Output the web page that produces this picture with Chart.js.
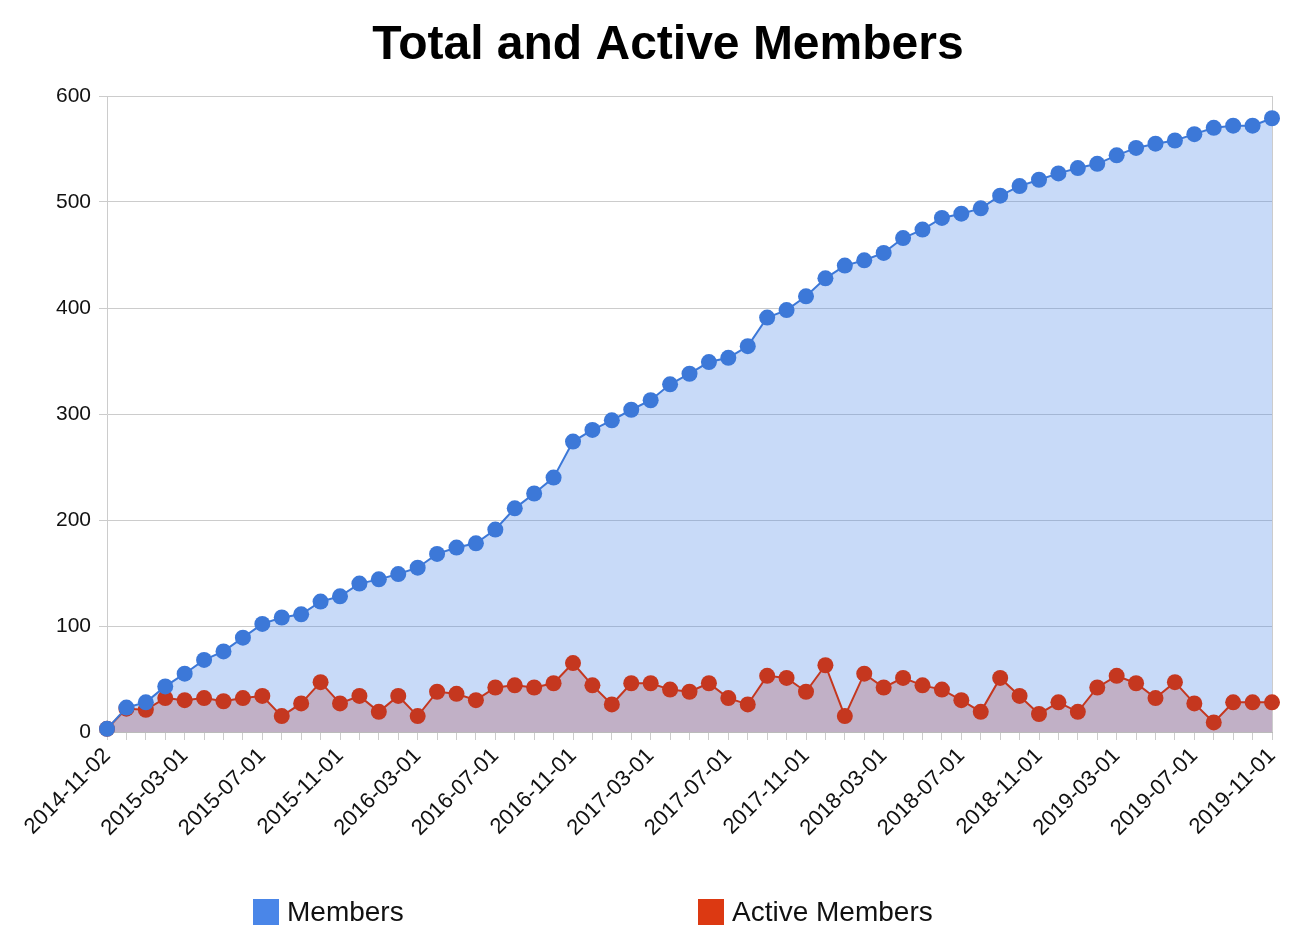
<!DOCTYPE html>
<html>
<head>
<meta charset="utf-8">
<script src="https://cdn.jsdelivr.net/npm/chart.js@4.4.1/dist/chart.umd.min.js"></script>
<style>html,body{margin:0;padding:0;background:#fff}canvas{display:block}</style>
</head>
<body>
<canvas id="c" width="1294" height="944"></canvas>
<script>
const categories = [
  '2014-11-02','2014-12-01',
  '2015-01-01','2015-02-01','2015-03-01','2015-04-01','2015-05-01','2015-06-01',
  '2015-07-01','2015-08-01','2015-09-01','2015-10-01','2015-11-01','2015-12-01',
  '2016-01-01','2016-02-01','2016-03-01','2016-04-01','2016-05-01','2016-06-01',
  '2016-07-01','2016-08-01','2016-09-01','2016-10-01','2016-11-01','2016-12-01',
  '2017-01-01','2017-02-01','2017-03-01','2017-04-01','2017-05-01','2017-06-01',
  '2017-07-01','2017-08-01','2017-09-01','2017-10-01','2017-11-01','2017-12-01',
  '2018-01-01','2018-02-01','2018-03-01','2018-04-01','2018-05-01','2018-06-01',
  '2018-07-01','2018-08-01','2018-09-01','2018-10-01','2018-11-01','2018-12-01',
  '2019-01-01','2019-02-01','2019-03-01','2019-04-01','2019-05-01','2019-06-01',
  '2019-07-01','2019-08-01','2019-09-01','2019-10-01','2019-11-01'
];
const members = [
  3,23,28,43,55,68,76,89,102,108,111,123,128,140,144,149,155,168,174,178,
  191,211,225,240,274,285,294,304,313,328,338,349,353,364,391,398,411,428,440,445,
  452,466,474,485,489,494,506,515,521,527,532,536,544,551,555,558,564,570,572,572,
  579
];
const activeMembers = [
  3,22,21,32,30,32,29,32,34,15,27,47,27,34,19,34,15,38,36,30,
  42,44,42,46,65,44,26,46,46,40,38,46,32,26,53,51,38,63,15,55,
  42,51,44,40,30,19,51,34,17,28,19,42,53,46,32,47,27,9,28,28,
  28
];
const tickLabels = [
  '2014-11-02','2015-03-01','2015-07-01','2015-11-01','2016-03-01','2016-07-01',
  '2016-11-01','2017-03-01','2017-07-01','2017-11-01','2018-03-01','2018-07-01',
  '2018-11-01','2019-03-01','2019-07-01','2019-11-01'
];
const seriesNames = ['Members', 'Active Members'];
const titleText = 'Total and Active Members';

const FONT = "'Liberation Sans', Arial, Helvetica, sans-serif";

const bottomLegend = {
  id: 'bottomLegend',
  afterDraw(chart) {
    const ctx = chart.ctx;
    const spots = [253, 698];
    ctx.save();
    ctx.font = '28px ' + FONT;
    ctx.textBaseline = 'middle';
    ctx.textAlign = 'left';
    chart.data.datasets.forEach((ds, i) => {
      const x = spots[i];
      const yMid = 912;
      ctx.fillStyle = ds.legendColor;
      ctx.fillRect(x, yMid - 13, 26, 26);
      ctx.fillStyle = '#111';
      ctx.fillText(ds.label, x + 34, yMid + 1);
    });
    ctx.restore();
  }
};

new Chart(document.getElementById('c'), {
  type: 'line',
  data: {
    labels: categories,
    datasets: [
      {
        label: seriesNames[0],
        data: members,
        legendColor: '#4a86e8',
        borderColor: '#3c78d8',
        backgroundColor: 'rgba(74,134,232,0.3)',
        fill: 'origin',
        borderWidth: 2,
        pointRadius: 8,
        pointBackgroundColor: '#3c78d8',
        pointBorderWidth: 0,
        tension: 0,
        clip: false
      },
      {
        label: seriesNames[1],
        data: activeMembers,
        legendColor: '#dc3912',
        borderColor: '#c5371f',
        backgroundColor: 'rgba(220,57,18,0.3)',
        fill: 'origin',
        borderWidth: 2,
        pointRadius: 8,
        pointBackgroundColor: '#c5371f',
        pointBorderWidth: 0,
        tension: 0,
        clip: false
      }
    ]
  },
  options: {
    responsive: false,
    animation: false,
    layout: { padding: { left: 42, right: 0, top: 0, bottom: 0 } },
    plugins: {
      legend: { display: false },
      tooltip: { enabled: false },
      filler: { drawTime: 'beforeDatasetsDraw' },
      title: {
        display: true,
        text: titleText,
        color: '#000',
        font: { family: FONT, size: 48, weight: 'bold' },
        padding: { top: 17, bottom: 21.4 }
      }
    },
    scales: {
      x: {
        grid: {
          drawOnChartArea: true,
          color: (c) => (c.index === categories.length - 1 ? '#cccccc' : 'rgba(0,0,0,0)'),
          tickColor: '#cccccc',
          tickLength: 8,
          lineWidth: 1
        },
        border: { color: '#bbbbbb' },
        ticks: {
          autoSkip: false,
          minRotation: 45,
          maxRotation: 45,
          padding: 3,
          color: '#111',
          font: { family: FONT, size: 22 },
          callback: function (v, i) {
            const l = categories[i];
            return tickLabels.includes(l) ? l : '';
          }
        },
        afterFit(s) { s.height = 212; }
      },
      y: {
        min: 0,
        max: 600,
        grid: { color: '#cccccc', tickLength: 8, lineWidth: 1 },
        border: { color: '#cccccc' },
        ticks: {
          stepSize: 100,
          padding: 8,
          color: '#111',
          font: { family: FONT, size: 21 }
        },
        afterFit(s) { s.width = 65; }
      },
      yRightSpace: {
        type: 'linear',
        position: 'right',
        min: 0,
        max: 600,
        grid: { display: false },
        border: { display: false },
        ticks: { display: false },
        afterFit(s) { s.width = 22; }
      }
    }
  },
  plugins: [bottomLegend]
});
</script>
</body>
</html>
